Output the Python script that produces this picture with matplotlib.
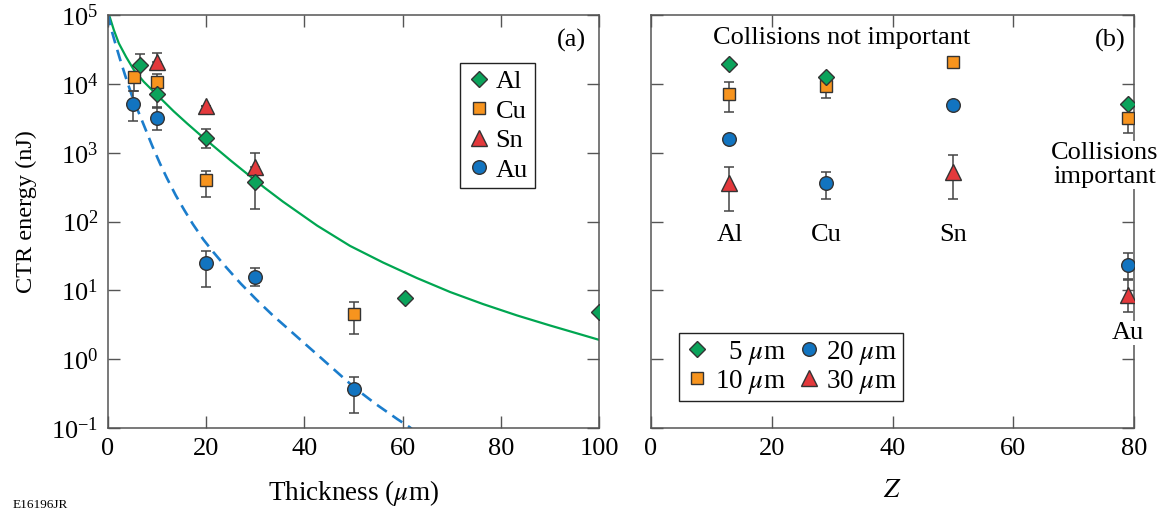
import matplotlib as mpl
mpl.use("Agg")
import matplotlib.pyplot as plt
import numpy as np
from matplotlib.ticker import LogLocator, NullLocator, NullFormatter

mpl.rcParams.update(
    {
        "font.family": ["Liberation Serif", "DejaVu Serif"],
        "mathtext.fontset": "stix",
        "axes.edgecolor": "#555555",
        "axes.linewidth": 1.1,
    }
)

# colours
GREEN = "#0BA35B"
ORANGE = "#F7941E"
RED = "#E3393C"
BLUE = "#1274C0"
EDGE = "#333333"
ERR = "#444444"

# ---------------- panel (a): energy vs thickness ----------------
al_x = [6.5, 10, 20, 30, 60.5, 100]
al_y = [1.86e4, 7.1e3, 1.62e3, 372, 7.7, 4.8]
al_lo = [None, 4.5e3, 1.17e3, 150, None, None]
al_hi = [2.7e4, None, 2.2e3, None, None, None]

cu_x = [5.3, 10, 20, 50]
cu_y = [1.26e4, 1.07e4, 400, 4.5]
cu_lo = [7.9e3, None, 225, 2.3]
cu_hi = [None, 1.38e4, 540, 6.8]

sn_x = [10, 20, 30]
sn_y = [2.1e4, 4.8e3, 620]
sn_lo = [None, None, None]
sn_hi = [2.8e4, None, 980]

au_x = [5, 10, 20, 30, 50]
au_y = [5.1e3, 3.2e3, 24.8, 15.5, 0.37]
au_lo = [2.9e3, 2.1e3, 11.2, 11.5, 0.164]
au_hi = [7.9e3, 4.6e3, 37, 21, 0.55]

# fitted curves
fit_al_x = [0, 0.4, 1.2, 2.2, 3.7, 5.3, 7.3, 9.4, 11.4, 13.4, 16.1, 18.9,
            22.0, 25.0, 28.9, 32.0, 35.6, 42.6, 49.3, 56.0, 62.9, 69.7,
            76.4, 83.3, 90.0, 96.7, 100]
fit_al_y = [1.1e5, 9.12e4, 6.03e4, 3.89e4, 2.45e4, 1.58e4, 1.07e4, 7.59e3,
            5.50e3, 3.98e3, 2.66e3, 1.78e3, 1.16e3, 767, 457, 305, 195,
            87.1, 44.2, 25.4, 15.1, 9.44, 6.31, 4.32, 3.09, 2.24, 1.91]
fit_au_x = [0.0, 0.6, 1.4, 2.4, 3.5, 5.0, 6.9, 9.0, 10.6, 12.0, 13.8, 15.5,
            17.3, 19.4, 21.4, 24.0, 27.0, 30.3, 33.5, 36.7, 40.0, 43.2,
            46.5, 50.3, 54.5, 58.9, 61.5, 62.0]
fit_au_y = [1.05e5, 6.46e4, 4.07e4, 2.34e4, 1.32e4, 6.31e3, 2.95e3, 1.26e3,
            692, 427, 240, 148, 91.2, 55.0, 36.3, 21.9, 12.6, 7.24, 4.37,
            2.75, 1.70, 1.07, 0.661, 0.380, 0.224, 0.135, 0.102, 0.095]

# ---------------- panel (b): energy vs Z ----------------
elements = ["Al", "Cu", "Sn", "Au"]
z_vals = [13, 29, 50, 79]

t5_z = [13, 29, 79]
t5_y = [1.95e4, 1.26e4, 5.1e3]

t10_z = [13, 29, 50, 79]
t10_y = [7.1e3, 9.3e3, 2.1e4, 3.2e3]
t10_lo = [3.9e3, 6.2e3, None, 1.9e3]
t10_hi = [1.07e4, None, None, None]

t20_z = [13, 29, 50, 79]
t20_y = [1.58e3, 363, 4.9e3, 23.4]
t20_lo = [None, 214, None, 14.5]
t20_hi = [None, 525, None, 35]

t30_z = [13, 50, 79]
t30_y = [363, 525, 8.5]
t30_lo = [141, 214, 4.8]
t30_hi = [617, 933, 14]


def yerr(y, lo, hi):
    y = np.array(y, dtype=float)
    lo = np.array([v if v is not None else np.nan for v in lo], dtype=float)
    hi = np.array([v if v is not None else np.nan for v in hi], dtype=float)
    lo = np.where(np.isnan(lo), y, lo)
    hi = np.where(np.isnan(hi), y, hi)
    return np.vstack([y - lo, hi - y])


def points(ax, x, y, lo, hi, marker, color, ms, label, z):
    if lo is not None:
        ax.errorbar(x, y, yerr=yerr(y, lo, hi), fmt="none", ecolor=ERR,
                    elinewidth=1.1, capsize=3.5, capthick=1.1, zorder=2)
    (h,) = ax.plot(x, y, linestyle="none", marker=marker, ms=ms,
                   markerfacecolor=color, markeredgecolor=EDGE,
                   markeredgewidth=1.0, label=label, zorder=z)
    return h


fig = plt.figure(figsize=(11.73, 5.17), dpi=100)
ax1 = fig.add_axes([108 / 1173, 1 - 428 / 517, 491 / 1173, 413 / 517])
ax2 = fig.add_axes([651 / 1173, 1 - 428 / 517, 483 / 1173, 413 / 517])

ax1.plot(fit_al_x, fit_al_y, color="#00A651", lw=1.6, zorder=1.5)
ax1.plot(fit_au_x, fit_au_y, color="#1B7DCC", lw=1.9, ls=(0, (4.5, 2.6)),
         zorder=1.5)

h_au = points(ax1, au_x, au_y, au_lo, au_hi, "o", BLUE, 9.8, "Au", 3)
h_sn = points(ax1, sn_x, sn_y, sn_lo, sn_hi, "^", RED, 11.5, "Sn", 3.1)
h_cu = points(ax1, cu_x, cu_y, cu_lo, cu_hi, "s", ORANGE, 8.9, "Cu", 3.2)
h_al = points(ax1, al_x, al_y, al_lo, al_hi, "D", GREEN, 8.5, "Al", 3.3)

ax1.legend(handles=[h_al, h_cu, h_sn, h_au], loc="upper left",
           bbox_to_anchor=(0.717, 0.884), borderaxespad=0, fontsize=19,
           handlelength=0.9, handletextpad=0.2, labelspacing=0.23,
           borderpad=0.25, fancybox=False, framealpha=1, edgecolor="#222222",
           numpoints=1)

h30 = points(ax2, t30_z, t30_y, t30_lo, t30_hi, "^", RED, 11.5, r"30 $\mu$m", 3)
h20 = points(ax2, t20_z, t20_y, t20_lo, t20_hi, "o", BLUE, 9.8, r"20 $\mu$m", 3.1)
h10 = points(ax2, t10_z, t10_y, t10_lo, t10_hi, "s", ORANGE, 8.9, r"10 $\mu$m", 3.2)
h5 = points(ax2, t5_z, t5_y, None, None, "D", GREEN, 8.5, r"  5 $\mu$m", 3.3)

ax2.legend(handles=[h5, h10, h20, h30], ncol=2, loc="upper left",
           bbox_to_anchor=(0.058, 0.230), borderaxespad=0, fontsize=19.5,
           handlelength=0.9, handletextpad=0.2, labelspacing=0.02,
           columnspacing=0.4, borderpad=0.22, fancybox=False, framealpha=1,
           edgecolor="#222222", numpoints=1)

for ax in (ax1, ax2):
    ax.set_yscale("log")
    ax.set_ylim(1e-1, 1e5)
    ax.yaxis.set_major_locator(LogLocator(base=10, numticks=10))
    ax.yaxis.set_minor_locator(NullLocator())
    ax.tick_params(which="both", direction="in", top=True, right=True,
                   length=8.5, width=1.0, color="#555555", labelsize=19,
                   pad=7)

ax1.set_xlim(0, 100)
ax1.set_xticks([0, 20, 40, 60, 80, 100])
ax2.set_xlim(0, 80)
ax2.set_xticks([0, 20, 40, 60, 80])
ax2.yaxis.set_major_formatter(NullFormatter())

ax1.set_ylabel("CTR energy (nJ)", fontsize=17.5)
ax1.yaxis.set_label_coords(-0.145, 0.523)
ax1.set_xlabel(r"Thickness ($\mu$m)", fontsize=19.5)
ax1.xaxis.set_label_coords(0.5, -0.122)
ax2.set_xlabel(r"$Z$", fontsize=19.5)
ax2.xaxis.set_label_coords(0.5, -0.122)

ax1.text(0.944, 0.939, "(a)", transform=ax1.transAxes, fontsize=19,
         ha="center", va="center")
ax2.text(0.950, 0.939, "(b)", transform=ax2.transAxes, fontsize=19,
         ha="center", va="center")
ax2.text(0.394, 0.944, "Collisions not important", transform=ax2.transAxes,
         fontsize=19, ha="center", va="center")
ax2.text(0.940, 0.637, "Collisions\nimportant", transform=ax2.transAxes,
         fontsize=19, ha="center", va="center", linespacing=1.1,
         bbox=dict(facecolor="white", edgecolor="none", pad=1), zorder=5)

xt = ax2.get_xaxis_transform()
for name, zv in zip(elements[:3], z_vals[:3]):
    ax2.text(zv, 0.467, name, transform=xt, fontsize=19, ha="center",
             va="center")
ax2.text(z_vals[3], 0.230, elements[3], transform=xt, fontsize=19,
         ha="center", va="center",
         bbox=dict(facecolor="white", edgecolor="none", pad=1), zorder=5)

fig.text(13 / 1173, 1 - 505 / 517, "E16196JR", fontsize=9.5, va="center")

fig.savefig("out.png", dpi=100)
